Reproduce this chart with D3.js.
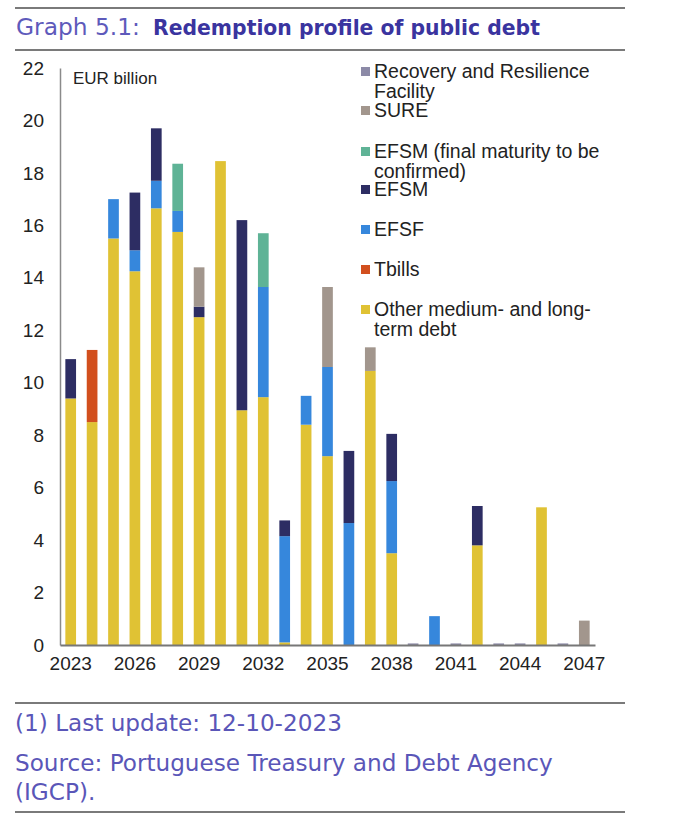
<!DOCTYPE html>
<html><head><meta charset="utf-8">
<script src="https://cdn.jsdelivr.net/npm/d3@7"></script>
<style>body{margin:0;background:#fff}svg{display:block}</style>
</head><body>
<script>
const years = d3.range(2023, 2048);
const otherDebt = [9.4, 8.5, 15.5, 14.25, 16.65, 15.75, 12.5, 18.45, 8.95, 9.45, 0.1, 8.4, 7.2, 0, 10.45, 3.5, 0, 0, 0, 3.8, 0, 0, 5.25, 0, 0];
const tbills    = [0, 2.75, 0, 0, 0, 0, 0, 0, 0, 0, 0, 0, 0, 0, 0, 0, 0, 0, 0, 0, 0, 0, 0, 0, 0];
const efsf      = [0, 0, 1.5, 0.8, 1.05, 0.8, 0, 0, 0, 4.2, 4.05, 1.1, 3.4, 4.65, 0, 2.75, 0, 1.1, 0, 0, 0, 0, 0, 0, 0];
const efsm      = [1.5, 0, 0, 2.2, 2.0, 0, 0.4, 0, 7.25, 0, 0.6, 0, 0, 2.75, 0, 1.8, 0, 0, 0, 1.5, 0, 0, 0, 0, 0];
const efsmTbc   = [0, 0, 0, 0, 0, 1.8, 0, 0, 0, 2.05, 0, 0, 0, 0, 0, 0, 0, 0, 0, 0, 0, 0, 0, 0, 0];
const sure      = [0, 0, 0, 0, 0, 0, 1.5, 0, 0, 0, 0, 0, 3.05, 0, 0.9, 0, 0, 0, 0, 0, 0, 0, 0, 0, 0.93];
const rrf       = [0, 0, 0, 0, 0, 0, 0, 0, 0, 0, 0, 0, 0, 0, 0, 0, 0.06, 0, 0.06, 0, 0.06, 0.06, 0, 0.06, 0];
const yTicks = [0, 2, 4, 6, 8, 10, 12, 14, 16, 18, 20, 22];
const xTickYears = [2023, 2026, 2029, 2032, 2035, 2038, 2041, 2044, 2047];

const seriesDefs = [
  {key: "other", name: ["Other medium- and long-", "term debt"], color: "#e0c234", values: otherDebt},
  {key: "tbills", name: ["Tbills"], color: "#d24f1e", values: tbills},
  {key: "efsf", name: ["EFSF"], color: "#3687dc", values: efsf},
  {key: "efsm", name: ["EFSM"], color: "#2d2d63", values: efsm},
  {key: "efsmTbc", name: ["EFSM (final maturity to be", "confirmed)"], color: "#5fb396", values: efsmTbc},
  {key: "sure", name: ["SURE"], color: "#a2968d", values: sure},
  {key: "rrf", name: ["Recovery and Resilience", "Facility"], color: "#8c8aa7", values: rrf}
];

const W = 676, H = 830;
const svg = d3.select("body").append("svg").attr("width", W).attr("height", H);

const rule = (yy) => svg.append("line").attr("x1", 15).attr("x2", 625).attr("y1", yy).attr("y2", yy)
  .attr("stroke", "#7a7a7a").attr("stroke-width", 2);
rule(8); rule(50); rule(703); rule(812);

const titleFont = "'DejaVu Sans', sans-serif";
function fit(sel, target) {
  const fs = parseFloat(sel.attr("font-size"));
  const w = sel.node().getComputedTextLength();
  sel.attr("font-size", (fs * target / w).toFixed(2));
}
const t1 = svg.append("text").attr("x", 16).attr("y", 35).attr("font-family", titleFont)
  .attr("font-size", 20).attr("fill", "#5e5abb").text("Graph 5.1:");
fit(t1, 124);
const t2 = svg.append("text").attr("x", 153).attr("y", 35).attr("font-family", titleFont)
  .attr("font-size", 20).attr("font-weight", "bold").attr("fill", "#3a349f").text("Redemption profile of public debt");
fit(t2, 387);

const footer = [
  {t: "(1) Last update: 12-10-2023", y: 731},
  {t: "Source: Portuguese Treasury and Debt Agency", y: 771},
  {t: "(IGCP).", y: 800}
];
let footFs = 20;
footer.forEach((f, i) => {
  const s = svg.append("text").attr("x", 15).attr("y", f.y).attr("font-family", titleFont)
    .attr("font-size", 20).attr("fill", "#5a56b8").text(f.t);
  if (i === 1) { fit(s, 538); footFs = s.attr("font-size"); }
  f.sel = s;
});
footer.forEach(f => f.sel.attr("font-size", footFs));

// chart
const mLeft = 60, mRight = 595, mTop = 68, mBottom = 645;
const x = d3.scaleBand().domain(years).range([mLeft, mRight]).paddingInner(0.5).paddingOuter(0.25);
const y = d3.scaleLinear().domain([0, 22]).range([mBottom, mTop]);

const table = years.map((yr, i) => {
  const o = {year: yr};
  seriesDefs.forEach(s => o[s.key] = s.values[i]);
  return o;
});
const stacked = d3.stack().keys(seriesDefs.map(s => s.key))(table);
const colorOf = Object.fromEntries(seriesDefs.map(s => [s.key, s.color]));

svg.append("g").selectAll("g").data(stacked).join("g")
  .attr("fill", d => colorOf[d.key])
  .selectAll("rect").data(d => d.filter(p => p[1] - p[0] > 0)).join("rect")
  .attr("x", d => x(d.data.year))
  .attr("width", x.bandwidth())
  .attr("y", d => y(d[1]))
  .attr("height", d => Math.max(1.2, y(d[0]) - y(d[1])));

const chartFont = "'Liberation Sans', Arial, sans-serif";
const yAxis = svg.append("g").attr("transform", `translate(${mLeft},0)`)
  .call(d3.axisLeft(y).tickValues(yTicks).tickSize(0).tickPadding(16));
yAxis.select(".domain").attr("stroke", "#8a8a8a").attr("stroke-width", 1.5);
yAxis.selectAll("text").attr("font-family", chartFont).attr("font-size", 19).attr("fill", "#222");

const xAxis = svg.append("g").attr("transform", `translate(0,${mBottom})`)
  .call(d3.axisBottom(x).tickValues(xTickYears).tickSize(0).tickPadding(12).tickFormat(d3.format("d")));
xAxis.select(".domain").attr("stroke", "#777").attr("stroke-width", 2);
xAxis.selectAll("text").attr("font-family", chartFont).attr("font-size", 19).attr("fill", "#222");

svg.append("text").attr("x", 73).attr("y", 84).attr("font-family", chartFont).attr("font-size", 17)
  .attr("fill", "#222").text("EUR billion");

const legendItems = seriesDefs.slice().reverse();
const legendY = [72, 111, 152, 190, 230, 270, 310];
const lg = svg.append("g");
legendItems.forEach((s, i) => {
  const cy = legendY[i];
  lg.append("rect").attr("x", 361).attr("y", cy - 5).attr("width", 9).attr("height", 9).attr("fill", s.color);
  s.name.forEach((line, j) => {
    lg.append("text").attr("x", 374).attr("y", cy + 6 + j * 20)
      .attr("font-family", chartFont).attr("font-size", 19.5).attr("fill", "#222").text(line);
  });
});
</script>
</body></html>
